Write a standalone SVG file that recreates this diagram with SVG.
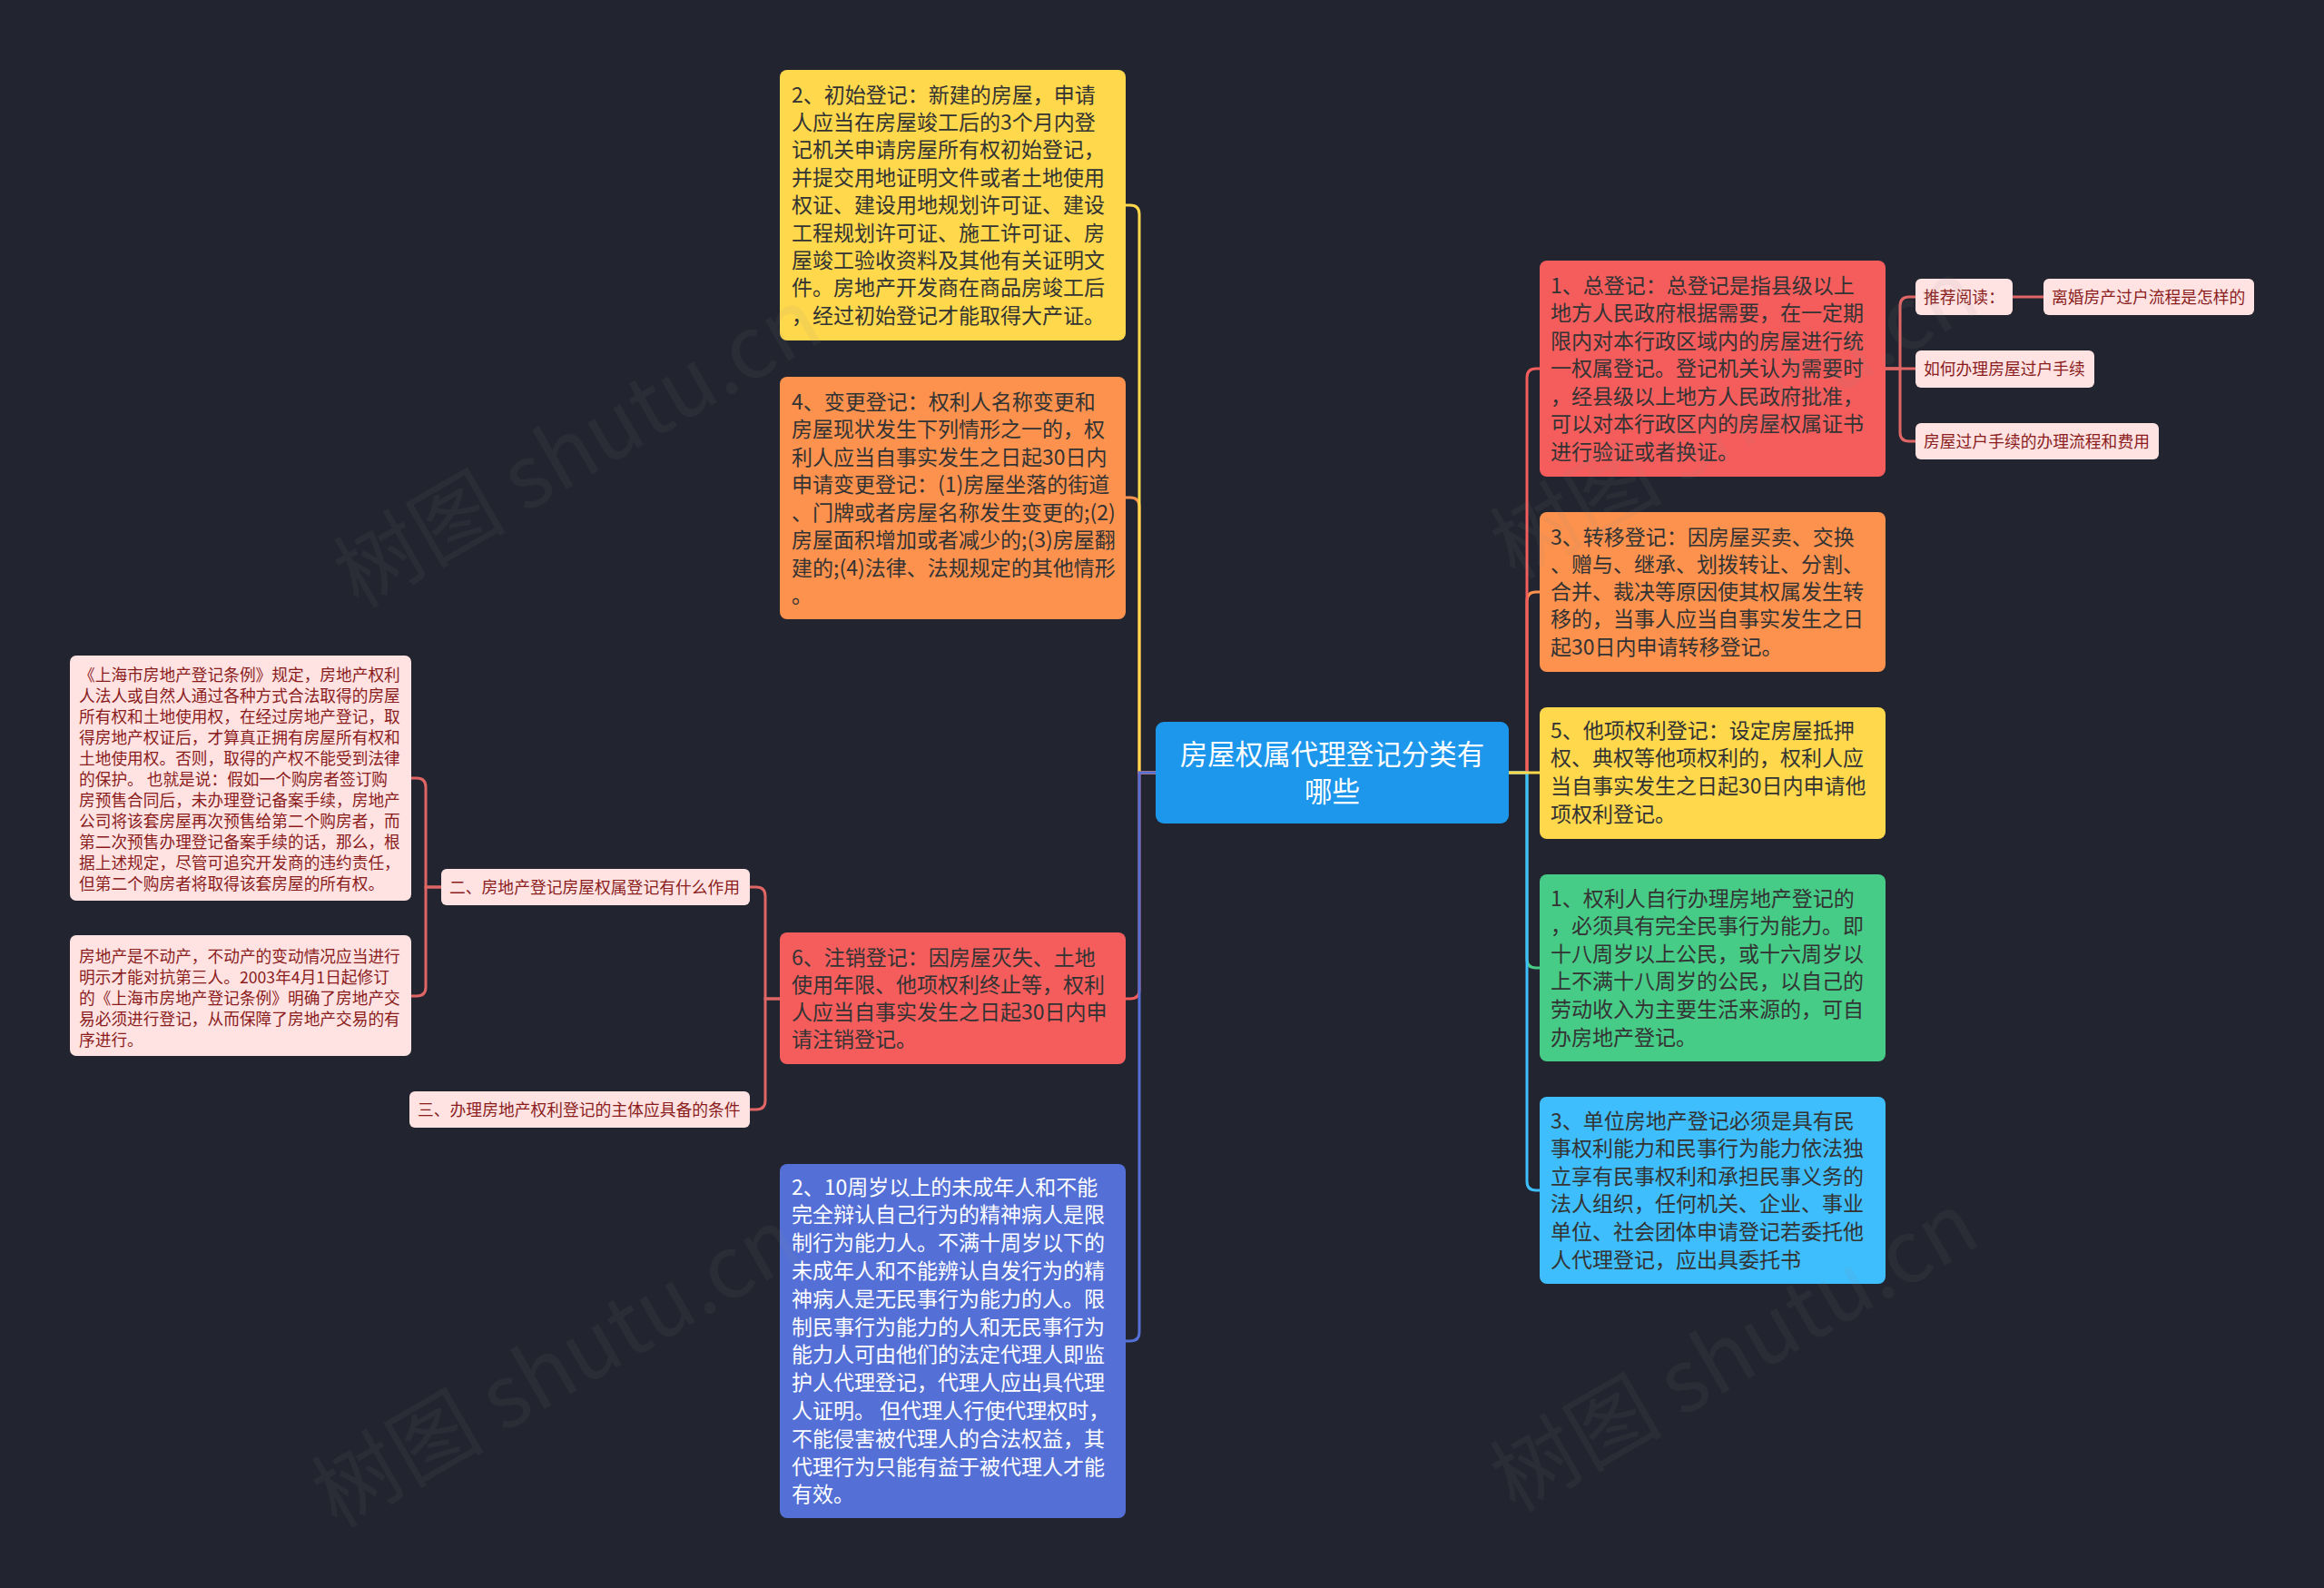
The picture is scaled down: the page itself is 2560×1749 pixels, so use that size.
<svg xmlns="http://www.w3.org/2000/svg" width="2560" height="1749" viewBox="0 0 2560 1749">
<style>
.t{font-family:"Noto Sans CJK SC","Noto Sans",sans-serif;font-size:23px;fill:#333333}
.w{fill:#ffffff}
.r{font-size:30.5px;fill:#ffffff;text-anchor:middle}
.s{font-size:17.8px;fill:#8a1c1c}
.l{font-size:17.7px;fill:#8a1c1c}
.c{fill:none;stroke-width:3;stroke-linecap:round}
.pk{fill:#ffe3e3}
.wm{font-family:"Noto Sans CJK SC","Noto Sans",sans-serif;font-size:95px;fill:#8a8a8a;opacity:0.08}
</style>
<rect x="0" y="0" width="2560" height="1749" fill="#22252f"/>

<g id="connectors">
<path class="c" stroke="#fd924e" d="M1273,851 H1255 V558 Q1255,548 1245,548 H1240"/>
<path class="c" stroke="#ffd84c" d="M1273,851 H1255 V236 Q1255,226 1245,226 H1240"/>
<path class="c" stroke="#f55d5d" d="M1273,851 H1255 V1090 Q1255,1100 1245,1100 H1240"/>
<path class="c" stroke="#5470d6" d="M1273,851 H1255 V1467 Q1255,1477 1245,1477 H1240"/>
<path class="c" stroke="#fd924e" d="M1662,851 H1682 V662 Q1682,652 1692,652 H1696"/>
<path class="c" stroke="#f55d5d" d="M1662,851 H1682 V416 Q1682,406 1692,406 H1696"/>
<path class="c" stroke="#47cc88" d="M1662,851 H1682 V1056 Q1682,1066 1692,1066 H1696"/>
<path class="c" stroke="#3ebefd" d="M1662,851 H1682 V1301 Q1682,1311 1692,1311 H1696"/>
<path class="c" stroke="#ffd84c" d="M1662,851 H1696"/>
<path class="c" stroke="#e06666" d="M2077,406 H2093 V337 Q2093,327 2103,327 H2110"/>
<path class="c" stroke="#e06666" d="M2077,406 H2110"/>
<path class="c" stroke="#e06666" d="M2077,406 H2093 V476 Q2093,486 2103,486 H2110"/>
<path class="c" stroke="#e06666" d="M2217,327 H2251"/>
<path class="c" stroke="#e06666" d="M859,1100 H843 V987 Q843,977 833,977 H826"/>
<path class="c" stroke="#e06666" d="M859,1100 H843 V1212 Q843,1222 833,1222 H826"/>
<path class="c" stroke="#e06666" d="M486,977 H469 V867 Q469,857 459,857 H453"/>
<path class="c" stroke="#e06666" d="M486,977 H469 V1087 Q469,1097 459,1097 H453"/>
</g>

<g id="root">
<rect x="1273" y="795" width="389" height="112" rx="9" fill="#1d97ec"/>
<text class="t r" x="1467.5" y="842">房屋权属代理登记分类有</text>
<text class="t r" x="1467.5" y="883">哪些</text>
</g>

<g id="n-initial">
<rect x="859" y="77" width="381" height="298" rx="8" fill="#ffd84c"/>
<text class="t" x="872" y="112.5">2、初始登记：新建的房屋，申请</text>
<text class="t" x="872" y="142.9">人应当在房屋竣工后的3个月内登</text>
<text class="t" x="872" y="173.3">记机关申请房屋所有权初始登记，</text>
<text class="t" x="872" y="203.7">并提交用地证明文件或者土地使用</text>
<text class="t" x="872" y="234.1">权证、建设用地规划许可证、建设</text>
<text class="t" x="872" y="264.5">工程规划许可证、施工许可证、房</text>
<text class="t" x="872" y="294.9">屋竣工验收资料及其他有关证明文</text>
<text class="t" x="872" y="325.3">件。房地产开发商在商品房竣工后</text>
<text class="t" x="872" y="355.7">，经过初始登记才能取得大产证。</text>
</g>

<g id="n-change">
<rect x="859" y="415" width="381" height="267" rx="8" fill="#fd924e"/>
<text class="t" x="872" y="450.5">4、变更登记：权利人名称变更和</text>
<text class="t" x="872" y="481">房屋现状发生下列情形之一的，权</text>
<text class="t" x="872" y="511.5">利人应当自事实发生之日起30日内</text>
<text class="t" x="872" y="542">申请变更登记：(1)房屋坐落的街道</text>
<text class="t" x="872" y="572.5">、门牌或者房屋名称发生变更的;(2)</text>
<text class="t" x="872" y="603">房屋面积增加或者减少的;(3)房屋翻</text>
<text class="t" x="872" y="633.5">建的;(4)法律、法规规定的其他情形</text>
<text class="t" x="872" y="664">。</text>
</g>

<g id="n-cancel">
<rect x="859" y="1027" width="381" height="145" rx="8" fill="#f55d5d"/>
<text class="t" x="872" y="1062.5">6、注销登记：因房屋灭失、土地</text>
<text class="t" x="872" y="1092.5">使用年限、他项权利终止等，权利</text>
<text class="t" x="872" y="1122.5">人应当自事实发生之日起30日内申</text>
<text class="t" x="872" y="1152.5">请注销登记。</text>
</g>

<g id="n-minor">
<rect x="859" y="1282" width="381" height="390" rx="8" fill="#5470d6"/>
<text class="t w" x="872" y="1315.5">2、10周岁以上的未成年人和不能</text>
<text class="t w" x="872" y="1346.3">完全辩认自己行为的精神病人是限</text>
<text class="t w" x="872" y="1377.1">制行为能力人。不满十周岁以下的</text>
<text class="t w" x="872" y="1407.9">未成年人和不能辨认自发行为的精</text>
<text class="t w" x="872" y="1438.7">神病人是无民事行为能力的人。限</text>
<text class="t w" x="872" y="1469.5">制民事行为能力的人和无民事行为</text>
<text class="t w" x="872" y="1500.3">能力人可由他们的法定代理人即监</text>
<text class="t w" x="872" y="1531.1">护人代理登记，代理人应出具代理</text>
<text class="t w" x="872" y="1561.9">人证明。 但代理人行使代理权时，</text>
<text class="t w" x="872" y="1592.7">不能侵害被代理人的合法权益，其</text>
<text class="t w" x="872" y="1623.5">代理行为只能有益于被代理人才能</text>
<text class="t w" x="872" y="1654.3">有效。</text>
</g>

<g id="n-general">
<rect x="1696" y="287" width="381" height="238" rx="8" fill="#f55d5d"/>
<text class="t" x="1708" y="322.5">1、总登记：总登记是指县级以上</text>
<text class="t" x="1708" y="353">地方人民政府根据需要，在一定期</text>
<text class="t" x="1708" y="383.5">限内对本行政区域内的房屋进行统</text>
<text class="t" x="1708" y="414">一权属登记。登记机关认为需要时</text>
<text class="t" x="1708" y="444.5">，经县级以上地方人民政府批准，</text>
<text class="t" x="1708" y="475">可以对本行政区内的房屋权属证书</text>
<text class="t" x="1708" y="505.5">进行验证或者换证。</text>
</g>

<g id="n-transfer">
<rect x="1696" y="564" width="381" height="176" rx="8" fill="#fd924e"/>
<text class="t" x="1708" y="599.5">3、转移登记：因房屋买卖、交换</text>
<text class="t" x="1708" y="629.8">、赠与、继承、划拨转让、分割、</text>
<text class="t" x="1708" y="660.1">合并、裁决等原因使其权属发生转</text>
<text class="t" x="1708" y="690.4">移的，当事人应当自事实发生之日</text>
<text class="t" x="1708" y="720.7">起30日内申请转移登记。</text>
</g>

<g id="n-other">
<rect x="1696" y="779" width="381" height="145" rx="8" fill="#ffd84c"/>
<text class="t" x="1708" y="812.5">5、他项权利登记：设定房屋抵押</text>
<text class="t" x="1708" y="843.2">权、典权等他项权利的，权利人应</text>
<text class="t" x="1708" y="873.9">当自事实发生之日起30日内申请他</text>
<text class="t" x="1708" y="904.6">项权利登记。</text>
</g>

<g id="n-self">
<rect x="1696" y="963" width="381" height="206" rx="8" fill="#47cc88"/>
<text class="t" x="1708" y="997.5">1、权利人自行办理房地产登记的</text>
<text class="t" x="1708" y="1028.1">，必须具有完全民事行为能力。即</text>
<text class="t" x="1708" y="1058.7">十八周岁以上公民，或十六周岁以</text>
<text class="t" x="1708" y="1089.3">上不满十八周岁的公民，以自己的</text>
<text class="t" x="1708" y="1119.9">劳动收入为主要生活来源的，可自</text>
<text class="t" x="1708" y="1150.5">办房地产登记。</text>
</g>

<g id="n-unit">
<rect x="1696" y="1208" width="381" height="206" rx="8" fill="#3ebefd"/>
<text class="t" x="1708" y="1242.5">3、单位房地产登记必须是具有民</text>
<text class="t" x="1708" y="1273.1">事权利能力和民事行为能力依法独</text>
<text class="t" x="1708" y="1303.7">立享有民事权利和承担民事义务的</text>
<text class="t" x="1708" y="1334.3">法人组织，任何机关、企业、事业</text>
<text class="t" x="1708" y="1364.9">单位、社会团体申请登记若委托他</text>
<text class="t" x="1708" y="1395.5">人代理登记，应出具委托书</text>
</g>

<g id="n-recommend">
<rect class="pk" x="2110" y="307" width="107" height="40" rx="6"/>
<text class="t s" x="2119" y="333.5">推荐阅读：</text>
</g>
<g id="n-divorce">
<rect class="pk" x="2251" y="307" width="232" height="40" rx="6"/>
<text class="t s" x="2260" y="333.5">离婚房产过户流程是怎样的</text>
</g>
<g id="n-howto">
<rect class="pk" x="2110" y="386" width="197" height="41" rx="6"/>
<text class="t s" x="2119" y="413">如何办理房屋过户手续</text>
</g>
<g id="n-process">
<rect class="pk" x="2110" y="466" width="268" height="40" rx="6"/>
<text class="t s" x="2119" y="492.5">房屋过户手续的办理流程和费用</text>
</g>

<g id="n-role">
<rect class="pk" x="486" y="957" width="340" height="40" rx="6"/>
<text class="t s" x="495" y="983.5">二、房地产登记房屋权属登记有什么作用</text>
</g>
<g id="n-conditions">
<rect class="pk" x="451" y="1202" width="375" height="40" rx="6"/>
<text class="t s" x="460" y="1228.5">三、办理房地产权利登记的主体应具备的条件</text>
</g>

<g id="n-regulation">
<rect class="pk" x="77" y="722" width="376" height="270" rx="7"/>
<text class="t l" x="87" y="749.5">《上海市房地产登记条例》规定，房地产权利</text>
<text class="t l" x="87" y="772.5">人法人或自然人通过各种方式合法取得的房屋</text>
<text class="t l" x="87" y="795.5">所有权和土地使用权，在经过房地产登记，取</text>
<text class="t l" x="87" y="818.5">得房地产权证后，才算真正拥有房屋所有权和</text>
<text class="t l" x="87" y="841.5">土地使用权。否则，取得的产权不能受到法律</text>
<text class="t l" x="87" y="864.5">的保护。 也就是说：假如一个购房者签订购</text>
<text class="t l" x="87" y="887.5">房预售合同后，未办理登记备案手续，房地产</text>
<text class="t l" x="87" y="910.5">公司将该套房屋再次预售给第二个购房者，而</text>
<text class="t l" x="87" y="933.5">第二次预售办理登记备案手续的话，那么，根</text>
<text class="t l" x="87" y="956.5">据上述规定，尽管可追究开发商的违约责任，</text>
<text class="t l" x="87" y="979.5">但第二个购房者将取得该套房屋的所有权。</text>
</g>

<g id="n-immovable">
<rect class="pk" x="77" y="1030" width="376" height="133" rx="7"/>
<text class="t l" x="87" y="1059.5">房地产是不动产，不动产的变动情况应当进行</text>
<text class="t l" x="87" y="1082.5">明示才能对抗第三人。2003年4月1日起修订</text>
<text class="t l" x="87" y="1105.5">的《上海市房地产登记条例》明确了房地产交</text>
<text class="t l" x="87" y="1128.5">易必须进行登记，从而保障了房地产交易的有</text>
<text class="t l" x="87" y="1151.5">序进行。</text>
</g>

<g id="watermarks">
<text class="wm" x="653" y="522" text-anchor="middle" transform="rotate(-30 653 522)">树图 shutu.cn</text>
<text class="wm" x="1927" y="490" text-anchor="middle" transform="rotate(-30 1927 490)">树图 shutu.cn</text>
<text class="wm" x="629" y="1535" text-anchor="middle" transform="rotate(-30 629 1535)">树图 shutu.cn</text>
<text class="wm" x="1927" y="1518" text-anchor="middle" transform="rotate(-30 1927 1518)">树图 shutu.cn</text>
</g>
</svg>
